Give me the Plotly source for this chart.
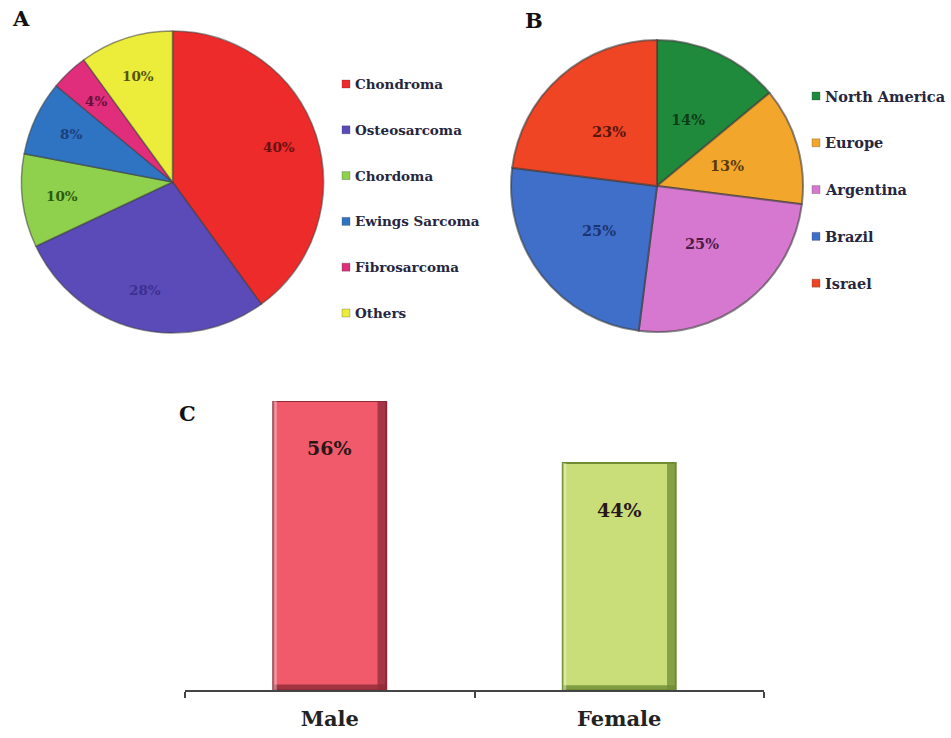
import math
import plotly.graph_objects as go

W, H = 951, 738

# Panel A: tumour types
tumour_types = ["Chondroma", "Osteosarcoma", "Chordoma", "Ewings Sarcoma", "Fibrosarcoma", "Others"]
tumour_pct = [40, 28, 10, 8, 4, 10]
tumour_colors = ["#ee2b2b", "#5a4bb8", "#8fd14c", "#2f74c2", "#e02e7c", "#ecec3a"]
tumour_text_colors = ["#6a1010", "#3c3090", "#2d5a10", "#1c3f7a", "#6a1038", "#55550a"]

# Panel B: geographic origin
regions = ["North America", "Europe", "Argentina", "Brazil", "Israel"]
region_pct = [14, 13, 25, 25, 23]
region_colors = ["#1f8a3b", "#f3a62c", "#d678cf", "#3f6fc8", "#ef4524"]
region_text_colors = ["#0d3d18", "#5a3a08", "#4a1a48", "#1c3470", "#5a1408"]

# Panel C: sex distribution
sexes = ["Male", "Female"]
sex_pct = [56, 44]
sex_colors = ["#f05a6b", "#c9de79"]
sex_edge = ["#8e2a38", "#6f8c34"]

SERIF = "DejaVu Serif"

# pie placement in pixels: centre x, centre y, radius
PIE_A = (172.5, 182, 151)
PIE_B = (657, 186, 146)


def px_x(x):
    return x / W


def px_y(y):
    return 1 - y / H


def pie_domain(cx, cy, r):
    return dict(x=[px_x(cx - r), px_x(cx + r)], y=[px_y(cy + r), px_y(cy - r)])


fig = go.Figure()

fig.add_trace(go.Pie(
    labels=tumour_types, values=tumour_pct, sort=False, direction="clockwise",
    marker=dict(colors=tumour_colors, line=dict(color="rgba(60,60,60,0.55)", width=1.5)),
    textinfo="none", domain=pie_domain(*PIE_A),
    showlegend=False, hoverinfo="label+percent",
))

fig.add_trace(go.Pie(
    labels=regions, values=region_pct, sort=False, direction="clockwise",
    marker=dict(colors=region_colors, line=dict(color="rgba(60,60,60,0.6)", width=2)),
    textinfo="none", domain=pie_domain(*PIE_B),
    showlegend=False, hoverinfo="label+percent",
))

fig.add_trace(go.Bar(
    x=sexes, y=sex_pct, width=0.39,
    marker=dict(color=sex_colors, line=dict(color=sex_edge, width=2)),
    showlegend=False, hoverinfo="x+y",
))

shapes = []
annotations = []


def slice_labels(values, text_colors, centre, frac, size):
    # percentage labels placed along each slice's mid-angle (clockwise from 12 o'clock)
    cx, cy, r = centre
    total = sum(values)
    cum = 0
    for v, col in zip(values, text_colors):
        theta = 2 * math.pi * (cum + v / 2) / total
        cum += v
        x = cx + frac * r * math.sin(theta)
        y = cy - frac * r * math.cos(theta)
        annotations.append(dict(x=px_x(x), y=px_y(y), xref="paper", yref="paper",
                                xanchor="center", yanchor="middle", text=f"<b>{v}%</b>",
                                showarrow=False, font=dict(family=SERIF, size=size, color=col)))


slice_labels(tumour_pct, tumour_text_colors, PIE_A, 0.74, 13.5)
slice_labels(region_pct, region_text_colors, PIE_B, 0.5, 14.5)

# bevel strips on the bars (right side and bottom), sized from the bar values
for i, (v, edge) in enumerate(zip(sex_pct, sex_edge)):
    half = 0.39 / 2
    shapes.append(dict(type="rect", xref="x", yref="y", x0=i + half - 0.03, x1=i + half,
                       y0=0, y1=v, fillcolor=edge, opacity=0.75, line=dict(width=0), layer="above"))
    shapes.append(dict(type="rect", xref="x", yref="y", x0=i - half, x1=i + half,
                       y0=0, y1=v * 0.012 + 0.4, fillcolor=edge, opacity=0.8, line=dict(width=0), layer="above"))
    shapes.append(dict(type="rect", xref="x", yref="y", x0=i - half, x1=i - half + 0.012,
                       y0=0, y1=v, fillcolor="white", opacity=0.35, line=dict(width=0), layer="above"))
    annotations.append(dict(x=sexes[i], y=v, xref="x", yref="y", yshift=-47,
                            text=f"<b>{v}%</b>", showarrow=False,
                            font=dict(family=SERIF, size=19, color="#2a1616")))


def legend_block(labels, colors, x_sq, y_top, step, size):
    for k, (lab, col) in enumerate(zip(labels, colors)):
        yc = y_top + k * step
        shapes.append(dict(type="rect", xref="paper", yref="paper",
                           x0=px_x(x_sq), x1=px_x(x_sq + 8), y0=px_y(yc + 4), y1=px_y(yc - 4),
                           fillcolor=col, line=dict(color="rgba(40,40,40,0.5)", width=0.5)))
        annotations.append(dict(x=px_x(x_sq + 11), y=px_y(yc), xref="paper", yref="paper",
                                xanchor="left", yanchor="middle", text=f"<b>{lab}</b>",
                                showarrow=False,
                                font=dict(family=SERIF, size=size, color="#26263e")))


legend_block(tumour_types, tumour_colors, 342, 84, 45.8, 13.5)
legend_block(regions, region_colors, 812, 96, 46.8, 14.5)

for letter, x, y in [("A", 21, 19), ("B", 534, 21), ("C", 187, 413)]:
    annotations.append(dict(x=px_x(x), y=px_y(y), xref="paper", yref="paper",
                            xanchor="center", yanchor="middle",
                            text=f"<b>{letter}</b>", showarrow=False,
                            font=dict(family=SERIF, size=21, color="#111")))

fig.update_layout(
    width=W, height=H, margin=dict(l=0, r=0, t=0, b=0),
    paper_bgcolor="white", plot_bgcolor="white",
    shapes=shapes, annotations=annotations,
    xaxis=dict(domain=[px_x(185), px_x(764)], range=[-0.5, 1.5], type="category",
               tickson="boundaries", ticks="outside", ticklen=6, tickwidth=2, tickcolor="#444",
               showline=True, linecolor="#444", linewidth=2, showgrid=False,
               tickfont=dict(family=SERIF, size=21, color="#222"), ticklabelstandoff=9,
               tickprefix="<b>", ticksuffix="</b>"),
    yaxis=dict(domain=[px_y(690), px_y(401)], range=[0, 56], visible=False),
    bargap=0.6,
)

fig.write_html("out.html")
